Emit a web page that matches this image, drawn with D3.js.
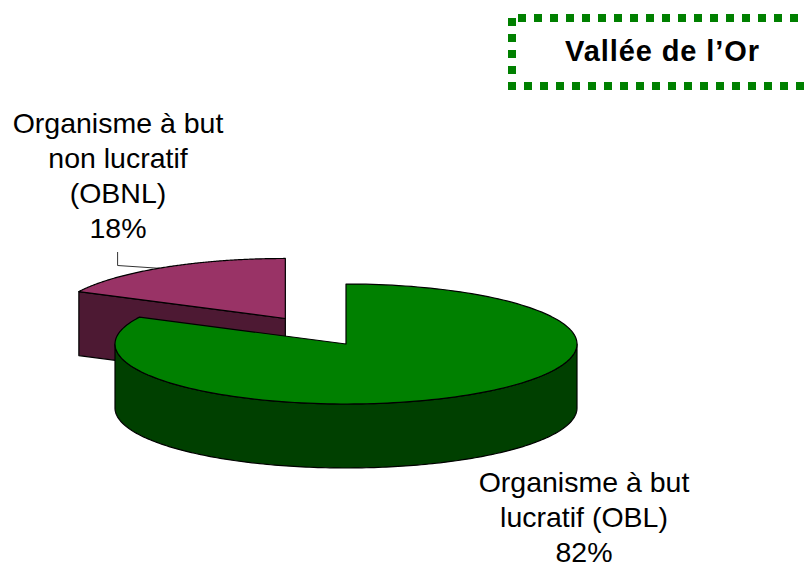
<!DOCTYPE html>
<html><head><meta charset="utf-8">
<style>html,body{margin:0;padding:0;background:#fff}svg{display:block}</style>
<script src="https://cdn.jsdelivr.net/npm/d3@7"></script></head>
<body><script>
const title = "Vallée de l’Or";
const categories = ["Organisme à but lucratif (OBL)", "Organisme à but non lucratif (OBNL)"];
const values = [82.4, 17.6];
const topColors = ["#008000", "#993366"];
const sideColors = ["#004000", "#4d1933"];
const labelLines = [["Organisme à but", "lucratif (OBL)"], ["Organisme à but", "non lucratif", "(OBNL)"]];
const labelAnchors = [[584, 491.5], [118, 133]];

const W = 805, H = 563;
const cx = 346, cy = 344, rx = 231, ry = 60, depth = 64, explode = [0, 0.5];
const svg = d3.select("body").append("svg").attr("width", W).attr("height", H).attr("viewBox", [0, 0, W, H]);
const fontFamily = "Liberation Sans, Arial, sans-serif";

const arcs = d3.pie().sort(null).startAngle(0).endAngle(2 * Math.PI)(values);
const line = d3.line();
const center = (a, i) => {
  const mid = (a.startAngle + a.endAngle) / 2;
  return [cx + rx * explode[i] * Math.sin(mid), cy - ry * explode[i] * Math.cos(mid)];
};
const pt = (c, t, dy = 0) => [c[0] + rx * Math.sin(t), c[1] - ry * Math.cos(t) + dy];
const arcPts = (c, t0, t1, dy = 0) => d3.range(0, 181).map(k => pt(c, t0 + (t1 - t0) * k / 180, dy));

// leader line (behind the exploded slice)
const leader = [[117.6, 252], [117.6, 265.5], [170, 269]];
svg.append("path").attr("d", line(leader)).attr("fill", "none").attr("stroke", "#333").attr("stroke-width", 1);

const edge = {stroke: "#000", "stroke-width": 1.2, "stroke-linejoin": "round"};
const paint = (sel, o) => { Object.entries(o).forEach(([k, v]) => sel.attr(k, v)); return sel; };

// OBNL slice: cut wall, then top
{
  const i = 1, a = arcs[i], c = center(a, i), p = pt(c, a.startAngle);
  paint(svg.append("path").attr("d", line([p, c, [c[0], c[1] + depth], [p[0], p[1] + depth]]) + "Z").attr("fill", sideColors[i]), edge);
  paint(svg.append("path").attr("d", line([c, ...arcPts(c, a.startAngle, a.endAngle)]) + "Z").attr("fill", topColors[i]), edge);
}
// OBL slice: outer wall, then top
{
  const i = 0, a = arcs[i], c = center(a, i);
  const front = arcPts(c, Math.PI / 2, 3 * Math.PI / 2);
  const lower = arcPts(c, 3 * Math.PI / 2, Math.PI / 2, depth);
  paint(svg.append("path").attr("d", line([...front, ...lower]) + "Z").attr("fill", sideColors[i]), edge);
  paint(svg.append("path").attr("d", line([c, ...arcPts(c, a.startAngle, a.endAngle)]) + "Z").attr("fill", topColors[i]), edge);
}

// data labels
const lh = 35;
arcs.forEach((a, i) => {
  const lines = [...labelLines[i], d3.format(".0f")(values[i]) + "%"];
  const t = svg.append("text").attr("text-anchor", "middle").attr("font-family", fontFamily)
    .attr("font-size", 28.5).attr("fill", "#000").attr("aria-label", categories[i]);
  lines.forEach((s, k) => t.append("tspan").attr("x", labelAnchors[i][0]).attr("y", labelAnchors[i][1] + k * lh).text(s));
});

// title box, dotted green, running off the right edge
const dash = {fill: "none", stroke: "#008000", "stroke-width": 8, "stroke-dasharray": "8 8"};
paint(svg.append("path").attr("d", line([[518, 18], [W + 10, 18]])), dash);
paint(svg.append("path").attr("d", line([[512, 18], [512, 78]])), dash);
paint(svg.append("path").attr("d", line([[508, 86], [W + 10, 86]])), dash);
svg.append("text").attr("x", 662.5).attr("y", 61).attr("text-anchor", "middle").attr("font-family", fontFamily)
  .attr("font-size", 29).attr("font-weight", "bold").attr("letter-spacing", 0.9).attr("fill", "#000").text(title);
</script></body></html>
